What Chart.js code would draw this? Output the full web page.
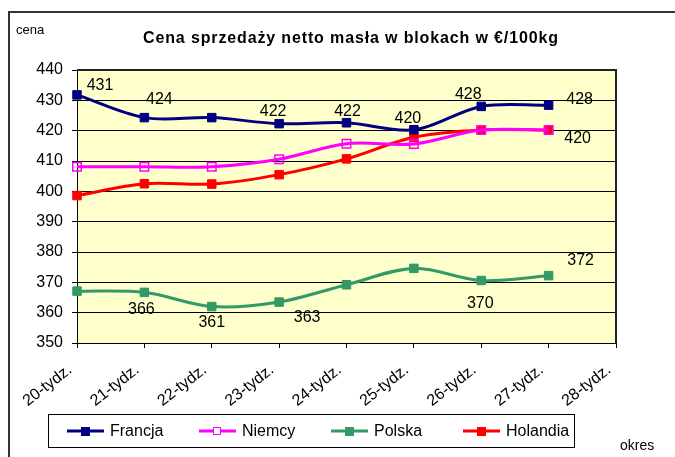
<!DOCTYPE html>
<html>
<head>
<meta charset="utf-8">
<script src="https://cdn.jsdelivr.net/npm/chart.js@4/dist/chart.umd.min.js"></script>
<style>
  html,body{margin:0;padding:0;background:#fff;}
  canvas{display:block;}
</style>
</head>
<body>
<canvas id="chart" width="675" height="457"></canvas>
<script>
// categories and values
const weeks = ['20-tydz.','21-tydz.','22-tydz.','23-tydz.','24-tydz.','25-tydz.','26-tydz.','27-tydz.','28-tydz.'];
const francja  = [431.8, 424.3, 424.3, 422.3, 422.6, 420.3, 428.0, 428.4];
const niemcy   = [408.1, 408.1, 408.1, 410.6, 415.7, 415.6, 420.2, 420.2];
const polska   = [367.1, 366.7, 362.0, 363.5, 369.2, 374.6, 370.6, 372.2];
const holandia = [398.6, 402.5, 402.4, 405.5, 410.7, 417.8, 420.2, 420.2];
const yTicks = [350, 360, 370, 380, 390, 400, 410, 420, 430, 440];

// data label texts as shown in the picture
const francjaLabels  = ['431','424',null,'422','422','420','428','428'];
const polskaLabels   = [null,'366','361','363',null,null,'370','372'];
const holandiaLabels = [null,null,null,null,null,null,null,'420'];

// label offsets (dx, dy) from the point
const labelOffsets = {
  Francja:  [[23,-9],[15,-18],null,[-6,-12],[1,-11],[-6,-11],[-13,-12],[31,-6]],
  Polska:   [null,[-3,17],[0,16],[28,16],null,null,[-1,23],[32,-15]],
  Holandia: [null,null,null,null,null,null,null,[29,9]]
};
const labelTexts = {Francja: francjaLabels, Polska: polskaLabels, Holandia: holandiaLabels};

const FONT = 'Arial, "Liberation Sans", sans-serif';

const frame = {
  id:'frame',
  beforeDraw(chart){
    const {ctx, chartArea:a} = chart;
    ctx.save();
    ctx.fillStyle = '#FFFFCC';
    ctx.fillRect(a.left, a.top, a.right - a.left, a.bottom - a.top);
    ctx.strokeStyle = '#333';
    ctx.lineWidth = 2;
    ctx.beginPath();
    ctx.moveTo(9, 457); ctx.lineTo(9, 12); ctx.lineTo(675, 12);
    ctx.stroke();
    ctx.restore();
  },
  afterDraw(chart){
    const {ctx, chartArea:a} = chart;
    ctx.save();
    ctx.strokeStyle = '#222';
    ctx.lineWidth = 2;
    ctx.beginPath();
    ctx.moveTo(a.left, a.top); ctx.lineTo(a.right, a.top); ctx.lineTo(a.right, a.bottom);
    ctx.stroke();
    // title
    ctx.fillStyle = '#000';
    ctx.font = 'bold 16px ' + FONT;
    ctx.textBaseline = 'middle';
    const title = 'Cena sprzedaży netto masła w blokach w €/100kg';
    const w = ctx.measureText(title).width;
    const ls = (415 - w) / (title.length - 1);
    ctx.letterSpacing = ls + 'px';
    ctx.textAlign = 'left';
    ctx.fillText(title, 143, 39);
    ctx.letterSpacing = '0px';
    ctx.font = '13px ' + FONT;
    ctx.fillText('cena', 16, 30);
    ctx.font = '14px ' + FONT;
    ctx.fillText('okres', 620, 446);
    // legend box
    ctx.lineWidth = 1;
    ctx.strokeStyle = '#000';
    ctx.fillStyle = '#fff';
    ctx.fillRect(49, 415, 525, 32);
    ctx.strokeRect(48.5, 414.5, 526, 33);
    const xs = [67, 199, 331, 463];
    chart.data.datasets.forEach((ds, i) => {
      const x = xs[i], y = 431;
      ctx.strokeStyle = ds.borderColor;
      ctx.lineWidth = 3;
      ctx.beginPath(); ctx.moveTo(x, y); ctx.lineTo(x + 37, y); ctx.stroke();
      ctx.lineWidth = 1;
      if (ds.label === 'Niemcy') {
        ctx.fillStyle = '#fff';
        ctx.fillRect(x + 14, y - 4, 8, 8);
        ctx.strokeRect(x + 14.5, y - 3.5, 7, 7);
      } else {
        ctx.fillStyle = ds.borderColor;
        ctx.fillRect(x + 14, y - 4, 9, 9);
      }
      ctx.fillStyle = '#000';
      ctx.font = '16px ' + FONT;
      ctx.textAlign = 'left';
      ctx.fillText(ds.label, x + 43, y + 1);
    });
    ctx.restore();
  },
  afterDatasetsDraw(chart){
    const ctx = chart.ctx;
    ctx.save();
    ctx.font = '16px ' + FONT;
    ctx.fillStyle = '#000';
    ctx.textAlign = 'center';
    ctx.textBaseline = 'middle';
    chart.data.datasets.forEach((ds, i) => {
      const texts = labelTexts[ds.label];
      if (!texts) return;
      const meta = chart.getDatasetMeta(i);
      texts.forEach((t, j) => {
        if (!t) return;
        const p = meta.data[j];
        const o = labelOffsets[ds.label][j];
        ctx.fillText(t, p.x + o[0], p.y + o[1]);
      });
    });
    ctx.restore();
  }
};

function series(label, data, color, hollow){
  return {
    label, data,
    borderColor: color,
    backgroundColor: hollow ? 'rgba(0,0,0,0)' : color,
    borderWidth: 3,
    pointStyle: 'rect',
    pointRadius: 6,
    pointBorderWidth: hollow ? 1.5 : 1,
    tension: 0.33,
    fill: false
  };
}

new Chart(document.getElementById('chart'), {
  type: 'line',
  data: {
    labels: weeks,
    datasets: [
      series('Francja', francja, '#000080'),
      series('Niemcy', niemcy, '#FF00FF', true),
      series('Polska', polska, '#339966'),
      series('Holandia', holandia, '#FF0000')
    ]
  },
  options: {
    responsive: false,
    animation: false,
    layout: {padding: {left: 10, top: 70, right: 59, bottom: 0}},
    plugins: {legend: {display: false}, title: {display: false}, tooltip: {enabled: false}},
    scales: {
      x: {
        offset: false,
        grid: {drawOnChartArea: false, drawTicks: true, tickLength: 5, color: '#000'},
        border: {color: '#000', width: 1},
        ticks: {
          minRotation: 38, maxRotation: 38, padding: 7,
          autoSkip: false,
          color: '#000', font: {family: FONT, size: 16},
          // trailing spaces push the rotated text down-left, away from the tick
          callback(v){ return this.getLabelForValue(v) + '  '; }
        },
        afterFit(s){ s.height = 114; }
      },
      y: {
        min: 350, max: 440,
        afterBuildTicks(s){ s.ticks = yTicks.map(v => ({value: v})); },
        grid: {color: '#000', lineWidth: 1, tickLength: 5},
        border: {color: '#000', width: 1},
        ticks: {padding: 9, color: '#000', font: {family: FONT, size: 16}},
        afterFit(s){ s.width = 67; }
      }
    }
  },
  plugins: [frame]
});
</script>
</body>
</html>
